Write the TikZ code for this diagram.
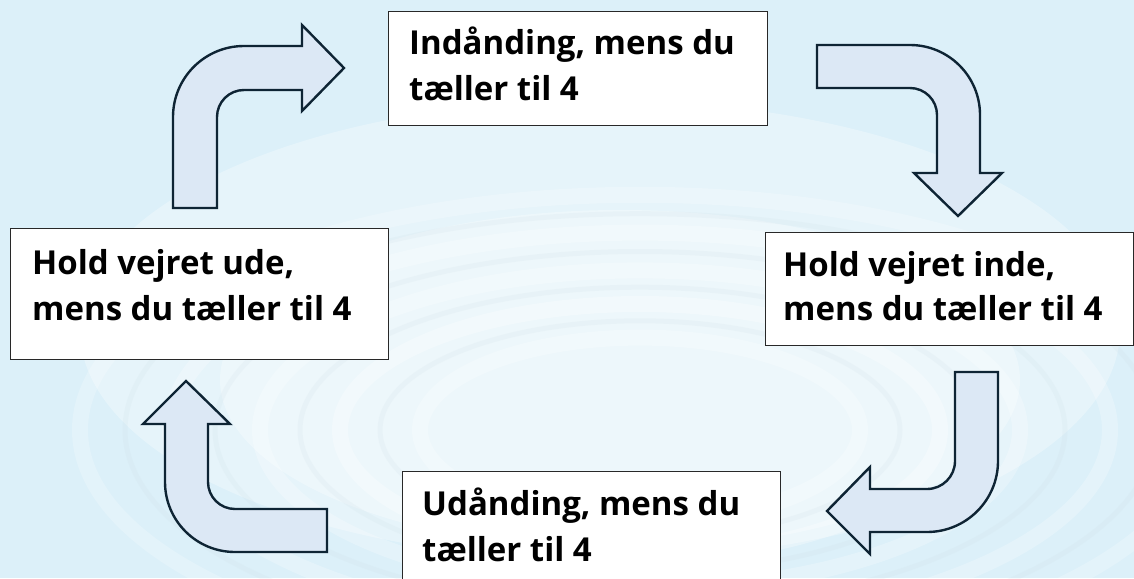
\documentclass[tikz,border=0pt]{standalone}
\usepackage{fontspec}
\setmainfont{Open Sans}
\definecolor{bgblue}{RGB}{220,240,249}
\definecolor{arrowfill}{RGB}{220,232,245}
\definecolor{arrowline}{RGB}{14,36,52}
\definecolor{boxline}{RGB}{40,40,40}
\tikzset{
  bentarrow/.style={fill=arrowfill, draw=arrowline, line width=2.4pt, line join=miter},
  stepbox/.style={draw=boxline, fill=white, line width=1.2pt},
  txt/.style={anchor=base west, inner sep=0pt, font=\fontsize{33}{40}\selectfont\bfseries, text=black},
}
\begin{document}
\begin{tikzpicture}[x=1pt,y=-1pt]
\useasboundingbox (0,0) rectangle (1134,578);
% background
\fill[bgblue] (0,0) rectangle (1134,578);
\begin{scope}
\clip (0,0) rectangle (1134,578);
\fill[white, opacity=0.3] (600,330) ellipse [x radius=520, y radius=230];
\fill[white, opacity=0.3] (620,380) ellipse [x radius=400, y radius=170];
\foreach \r/\o in {560/0.2, 470/0.25, 380/0.25, 300/0.3, 220/0.25}{
  \draw[white, line width=16pt, opacity=\o] (640,430) ellipse [x radius=\r, y radius=0.42*\r];
}
\foreach \r in {515, 425, 340, 260}{
  \draw[bgblue!80!gray, line width=5pt, opacity=0.15] (640,430) ellipse [x radius=\r, y radius=0.42*\r];
}
\end{scope}
% boxes
\node[stepbox, anchor=north west, minimum width=379pt, minimum height=114pt, inner sep=0pt] (top) at (388,11) {};
\node[stepbox, anchor=north west, minimum width=368pt, minimum height=113pt, inner sep=0pt] (right) at (765,232) {};
\node[stepbox, anchor=north west, minimum width=378pt, minimum height=120pt, inner sep=0pt] (bottom) at (402,471) {};
\node[stepbox, anchor=north west, minimum width=378pt, minimum height=131pt, inner sep=0pt] (left) at (10,228) {};
% texts
\node[txt] (t1) at (409,55) {Indånding, mens du};
\node[txt] (t2) at (409,100) {tæller til 4};
\node[txt] (r1) at (783,276) {Hold vejret inde,};
\node[txt] (r2) at (783,320) {mens du tæller til 4};
\node[txt] (b1) at (422,515) {Udånding, mens du};
\node[txt] (b2) at (422,561) {tæller til 4};
\node[txt] (l1) at (32,274) {Hold vejret ude,};
\node[txt] (l2) at (32,320) {mens du tæller til 4};
% bent arrows
\draw[bentarrow] (173,208) -- (173,117) arc[start angle=180, end angle=270, radius=71]
  -- (302,46) -- (302,25) -- (344,68) -- (302,111) -- (302,90) -- (244,90)
  arc[start angle=270, end angle=180, radius=27] -- (217,208) -- cycle;
\draw[bentarrow] (817,45) -- (910,45) arc[start angle=270, end angle=360, radius=70]
  -- (980,173) -- (1002,173) -- (958,216) -- (914,173) -- (937,173) -- (937,115)
  arc[start angle=0, end angle=-90, radius=27] -- (817,88) -- cycle;
\draw[bentarrow] (955,372) -- (998,372) -- (998,461) arc[start angle=0, end angle=90, radius=71]
  -- (870,532) -- (870,554) -- (827,511) -- (870,467) -- (870,489) -- (927,489)
  arc[start angle=90, end angle=0, radius=28] -- cycle;
\draw[bentarrow] (327,552) -- (235,552) arc[start angle=90, end angle=180, radius=70]
  -- (165,424) -- (143,424) -- (186,381) -- (230,424) -- (208,424) -- (208,482)
  arc[start angle=180, end angle=90, radius=27] -- (327,509) -- cycle;
\end{tikzpicture}
\end{document}
